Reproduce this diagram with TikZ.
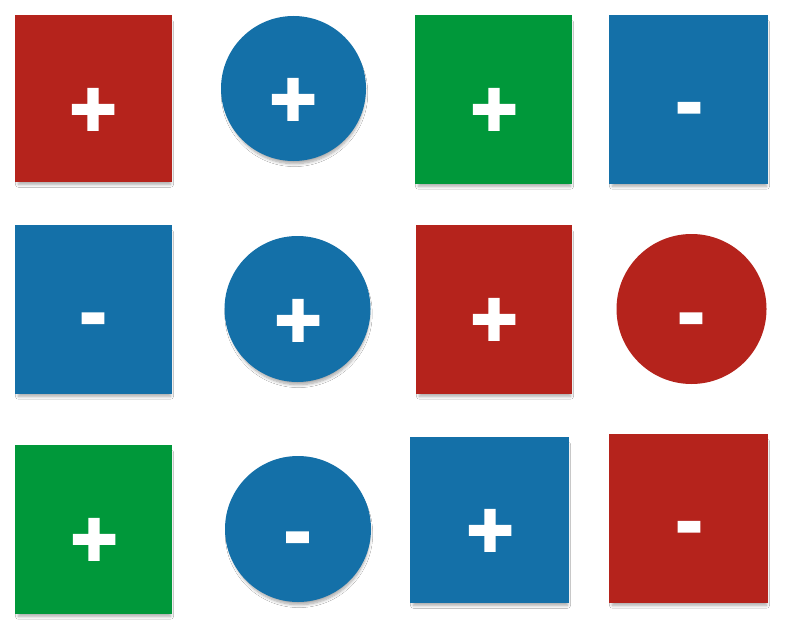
\documentclass[tikz,border=0pt]{standalone}
\usepackage{fontspec}
\usetikzlibrary{shadows.blur}
\newfontfamily\signfont{Liberation Sans Bold}[FakeBold=3]
\definecolor{cred}{RGB}{181,35,28}
\definecolor{cblue}{RGB}{20,112,168}
\definecolor{cgreen}{RGB}{0,152,58}
\begin{document}
\begin{tikzpicture}[x=1pt,y=-1pt,
  shade/.style={blur shadow={shadow xshift=1pt,shadow yshift=-5pt,shadow scale=0.97,shadow blur radius=3pt,shadow blur steps=8,shadow opacity=35}},
  tile/.style={rectangle,draw=none,inner sep=0pt,shade},
  disc/.style={circle,draw=none,inner sep=0pt,minimum size=#1},
  sign/.style={text=white,inner sep=0pt,anchor=base,font=\signfont\fontsize{80}{80}\selectfont},
]
\useasboundingbox[fill=white] (0,0) rectangle (786,623);
% row 1
\node[tile,fill=cred,minimum width=157pt,minimum height=167pt] (a1) at (93.5,98.5) {};
\node[disc=145pt,shade,fill=cblue] (a2) at (293.5,88.5) {};
\node[tile,fill=cgreen,minimum width=157pt,minimum height=169pt] (a3) at (493.5,99.5) {};
\node[tile,fill=cblue,minimum width=159pt,minimum height=169pt] (a4) at (688.5,99.5) {};
% row 2
\node[tile,fill=cblue,minimum width=157pt,minimum height=169pt] (b1) at (93.5,309.5) {};
\node[disc=146pt,shade,fill=cblue] (b2) at (297.5,309) {};
\node[tile,fill=cred,minimum width=156pt,minimum height=169pt] (b3) at (494,309.5) {};
\node[disc=150pt,fill=cred] (b4) at (691.5,309) {};
% row 3
\node[tile,fill=cgreen,minimum width=157pt,minimum height=169pt] (c1) at (93.5,529.5) {};
\node[disc=146pt,shade,fill=cblue] (c2) at (298,529) {};
\node[tile,fill=cblue,minimum width=159pt,minimum height=166pt] (c3) at (489.5,520) {};
\node[tile,fill=cred,minimum width=159pt,minimum height=169pt] (c4) at (688.5,518.5) {};
% signs (ink centre + baseline offset)
\node[sign] (sa1) at (93,108+28) {+};
\node[sign] (sa2) at (293,98+28) {+};
\node[sign] (sa3) at (494,108+28) {+};
\node[sign] (sa4) at (689,107.5+21) {-};
\node[sign] (sb1) at (93,318+21) {-};
\node[sign] (sb2) at (298,319+28) {+};
\node[sign] (sb3) at (494,318+28) {+};
\node[sign] (sb4) at (691,318+21) {-};
\node[sign] (sc1) at (94,538+28) {+};
\node[sign] (sc2) at (297.5,537+21) {-};
\node[sign] (sc3) at (490,529+28) {+};
\node[sign] (sc4) at (689,526.5+21) {-};
\end{tikzpicture}
\end{document}
